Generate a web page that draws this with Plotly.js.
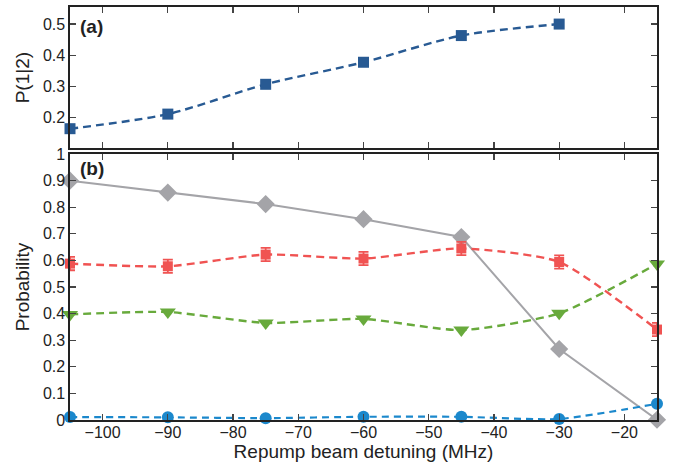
<!DOCTYPE html>
<html><head><meta charset="utf-8">
<script src="https://cdn.plot.ly/plotly-3.0.1.min.js"></script>
<style>body{margin:0;background:#fff}#plot{width:674px;height:463px}</style>
</head><body><div id="plot"></div>
<script>
const detuning = [-105, -90, -75, -60, -45, -30, -15];
const detuningA = [-105, -90, -75, -60, -45, -30];
const p12 = [0.163, 0.210, 0.306, 0.377, 0.463, 0.500];
const grayDiamond = [0.900, 0.855, 0.812, 0.755, 0.688, 0.267, 0.001];
const redSquare = [0.588, 0.578, 0.622, 0.607, 0.645, 0.594, 0.340];
const redErr = [0.025, 0.025, 0.025, 0.025, 0.025, 0.025, 0.025];
const greenTri = [0.397, 0.406, 0.365, 0.380, 0.338, 0.401, 0.587];
const blueCircle = [0.011, 0.010, 0.007, 0.012, 0.012, 0.004, 0.061];
const xTicks = [-100, -90, -80, -70, -60, -50, -40, -30, -20];
const yTicksA = [0.2, 0.3, 0.4, 0.5];

const traces = [
  {x: detuningA, y: p12, xaxis:'x2', yaxis:'y2', mode:'lines+markers', cliponaxis:false,
   line:{color:'#285a93', width:2.4, dash:'8px,5px', shape:'spline', smoothing:0.8},
   marker:{symbol:'square', size:11, color:'#285a93'}},
  {x: detuning, y: grayDiamond, mode:'lines+markers', cliponaxis:false,
   line:{color:'#a4a4a8', width:2},
   marker:{symbol:'diamond', size:14, color:'#a4a4a8'}},
  {x: detuning, y: redSquare, mode:'lines+markers', cliponaxis:false,
   error_y:{type:'data', array:redErr, visible:true, color:'#f05352', thickness:1.8, width:5},
   line:{color:'#f05352', width:2.4, dash:'8px,5px', shape:'spline', smoothing:0.6},
   marker:{symbol:'square', size:10, color:'#f05352'}},
  {x: detuning, y: greenTri, mode:'lines+markers', cliponaxis:false,
   line:{color:'#68aa3c', width:2.4, dash:'8px,5px', shape:'spline', smoothing:0.6},
   marker:{symbol:'triangle-down', size:14, color:'#68aa3c'}},
  {x: detuning, y: blueCircle, mode:'lines+markers', cliponaxis:false,
   line:{color:'#1b88cc', width:2.2, dash:'7px,5px', shape:'spline', smoothing:0.6},
   marker:{symbol:'circle', size:12, color:'#1b88cc'}}
];

const fontFam = 'Liberation Sans, Arial, Helvetica, sans-serif';
const axCommon = {showgrid:false, zeroline:false, showline:true, mirror:'allticks', linecolor:'#222', linewidth:1.6,
  ticks:'inside', ticklen:6, tickcolor:'#444', tickwidth:1.2, tickfont:{family:fontFam, size:16, color:'#222'}};

const layout = {
  width:674, height:463, showlegend:false,
  margin:{l:70, r:17, t:7, b:43},
  paper_bgcolor:'#fff', plot_bgcolor:'#fff', font:{family:fontFam, size:16, color:'#222'},
  xaxis: Object.assign({}, axCommon, {domain:[0,1], range:[-105,-15], tickvals:xTicks, anchor:'y',
    ticklabelstandoff:-3,
    title:{text:'Repump beam detuning (MHz)', font:{family:fontFam, size:19, color:'#222'}, standoff:3}}),
  yaxis: Object.assign({}, axCommon, {domain:[0,0.644], range:[0,1], dtick:0.1, tick0:0, anchor:'x',
    title:{text:'Probability', font:{family:fontFam, size:19, color:'#222'}, standoff:8}}),
  xaxis2: Object.assign({}, axCommon, {domain:[0,1], range:[-105,-15], tickvals:xTicks, showticklabels:false, anchor:'y2'}),
  yaxis2: Object.assign({}, axCommon, {domain:[0.658,1], range:[0.1,0.555], tickvals:yTicksA, anchor:'x2',
    title:{text:'P(1|2)', font:{family:fontFam, size:19, color:'#222'}, standoff:8}}),
  annotations:[
    {text:'<b>(a)</b>', xref:'x2 domain', yref:'y2 domain', x:0.013, y:0.864, xanchor:'left', yanchor:'middle', showarrow:false, font:{family:fontFam, size:19, color:'#222'}},
    {text:'<b>(b)</b>', xref:'x domain', yref:'y domain', x:0.013, y:0.944, xanchor:'left', yanchor:'middle', showarrow:false, font:{family:fontFam, size:19, color:'#222'}}
  ]
};
Plotly.newPlot('plot', traces, layout, {displayModeBar:false, staticPlot:true});
</script></body></html>
